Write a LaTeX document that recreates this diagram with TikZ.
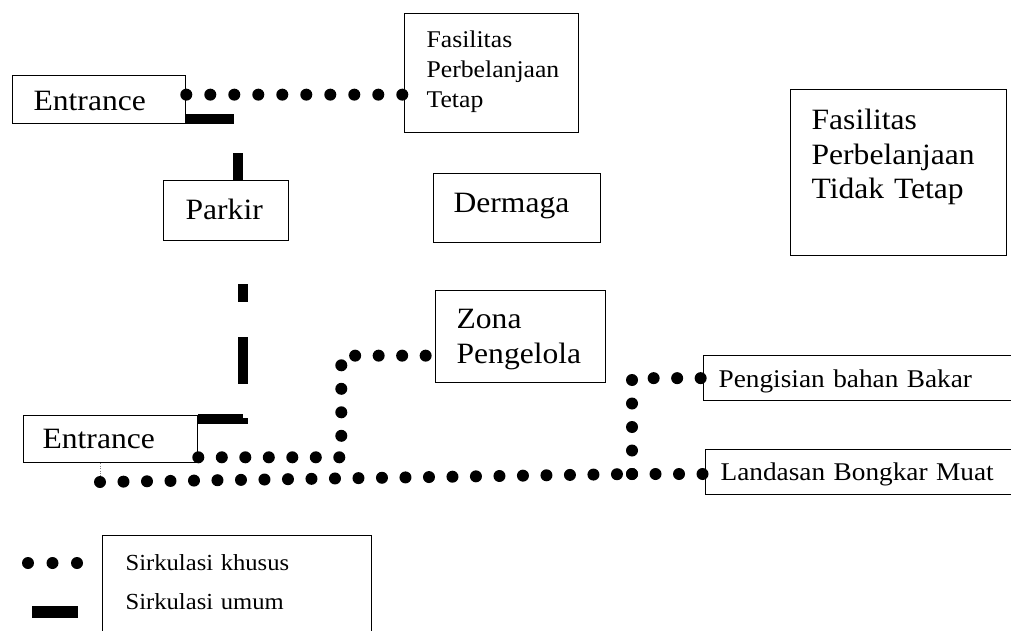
\documentclass[tikz,border=0pt]{standalone}
\usepackage{fontspec}
\setmainfont{Liberation Serif}[FakeStretch=1.07]
\usepackage{tikz}
\newcommand{\besar}{\fontsize{29.5}{34.5}\selectfont}
\newcommand{\sedang}{\fontsize{25.5}{30}\selectfont}
\newcommand{\kecil}{\fontsize{24}{30}\selectfont}
\newcommand{\ket}{\fontsize{23}{39}\selectfont}
\tikzstyle{kotak}=[draw=black,line width=1.3pt,anchor=north west,inner ysep=0pt,align=left]
\tikzstyle{khusus}=[line width=12pt,line cap=round,dash pattern=on 0pt off 23.5pt]
\tikzstyle{umum}=[line width=10pt]

\begin{document}
\begin{tikzpicture}[x=1pt,y=-1pt]
  \useasboundingbox (0,0) rectangle (1011,631);
  \node[kotak,font=\besar,inner xsep=21pt,text width=131pt,text height=35pt,text depth=13pt]
    (ent1) at (12,75) {Entrance};
  \node[kotak,font=\kecil,inner xsep=22pt,text width=130pt,text height=34pt,text depth=85pt]
    (tetap) at (404,13) {Fasilitas\\Perbelanjaan\\Tetap};
  \node[kotak,font=\besar,inner xsep=22pt,text width=81pt,text height=39pt,text depth=21pt]
    (parkir) at (163,180) {Parkir};
  \node[kotak,font=\besar,inner xsep=20pt,text width=127pt,text height=39pt,text depth=30pt]
    (dermaga) at (433,173) {Dermaga};
  \node[kotak,font=\besar,inner xsep=21pt,text width=174pt,text height=40pt,text depth=126pt]
    (tidak) at (790,89) {Fasilitas\\Perbelanjaan\\Tidak Tetap};
  \node[kotak,font=\besar,inner xsep=21pt,text width=128pt,text height=38pt,text depth=54pt]
    (zona) at (435,290) {Zona\\Pengelola};
  \node[kotak,font=\besar,inner xsep=19pt,text width=136pt,text height=33pt,text depth=14pt]
    (ent2) at (23,415) {Entrance};
  \node[kotak,font=\sedang,inner xsep=15pt,text width=292pt,text height=32pt,text depth=13pt]
    (pengisian) at (703,355) {Pengisian bahan Bakar};
  \node[kotak,font=\sedang,inner xsep=15pt,text width=290pt,text height=31pt,text depth=14pt]
    (landasan) at (705,449) {Landasan Bongkar Muat};
  \node[kotak,font=\ket,inner xsep=23pt,text width=223pt,text height=35pt,text depth=90pt]
    (legenda) at (102,535) {Sirkulasi khusus\\Sirkulasi umum};

  \coordinate (a1) at ([yshift=5pt]ent1.east);
  \draw[khusus,dash pattern=on 0pt off 24pt] (a1) -- (a1 -| tetap.west);
  \coordinate (a2) at ([yshift=6pt]ent2.south east);
  \coordinate (b2) at ([yshift=-19pt]zona.west);
  \draw[khusus] (a2) -- ++(143,0) |- (b2);
  \coordinate (mulai) at (100,482);
  \coordinate (simpang) at (632,474);
  \draw[thin,dotted,gray] (mulai |- ent2.south) -- (mulai);
  \draw[khusus] (mulai) -- (simpang);
  \draw[khusus] (simpang) -- (simpang -| landasan.west);
  \draw[khusus] (simpang) |- (pengisian.west);

  \draw[umum,dash pattern=on 48pt off 38pt on 40pt off 100pt]
    ([yshift=5pt]ent1.south east) -| ([xshift=12pt]parkir.north);
  \draw[umum,dash pattern=on 46pt off 34pt on 47pt off 35pt on 18pt off 100pt]
    ([yshift=-4pt]ent2.north east) -| ([xshift=17pt]parkir.south);

  \coordinate (k1) at (28,563);
  \coordinate (k2) at (77,563);
  \draw[khusus,dash pattern=on 0pt off 24.5pt] (k1) -- (k2);
  \coordinate (u1) at (32,612);
  \coordinate (u2) at (78,612);
  \draw[umum,line width=12pt] (u1) -- (u2);
\end{tikzpicture}
\end{document}
